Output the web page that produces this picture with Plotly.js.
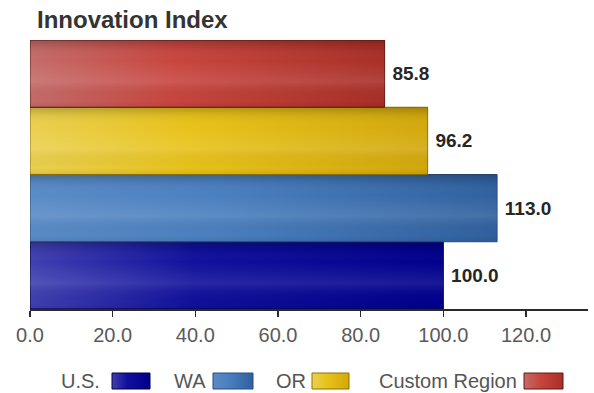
<!DOCTYPE html>
<html>
<head>
<meta charset="utf-8">
<script src="https://cdn.plot.ly/plotly-3.0.1.min.js"></script>
<style>
  html, body { margin: 0; padding: 0; background: #ffffff; }
  #chart { width: 594px; height: 393px; }
</style>
</head>
<body>
<div id="chart"></div>
<script>
// Innovation Index by region
const categories = ['U.S.', 'WA', 'OR', 'Custom Region'];
const values = [100.0, 113.0, 96.2, 85.8];
const tickValues = [0, 20, 40, 60, 80, 100, 120];
const tickLabels = ['0.0', '20.0', '40.0', '60.0', '80.0', '100.0', '120.0'];

// Base fill, edge and horizontal gradient stops for each region
const baseColors = ['#04048c', '#3f75b5', '#e4bc12', '#c23c37'];
const edgeColors = ['#000040', '#284c7c', '#8f7000', '#5e1a12'];
const gradientStops = [
  ['#4040b0', '#10109c', '#00008c'],
  ['#5a8bc6', '#4a7fbf', '#30609e'],
  ['#ead050', '#e8c21a', '#d2a80c'],
  ['#c46c6a', '#c8463f', '#a82f27']
];

// Plot-area geometry in pixels
const W = 594, H = 393;
const M = { l: 30, r: 6, t: 40, b: 84 };
const PW = W - M.l - M.r, PH = H - M.t - M.b;
const px2x = px => (px - M.l) / PW;
const py2y = py => (H - M.b - py) / PH;
const FONT = 'Liberation Sans, Arial, sans-serif';

const trace = {
  type: 'bar',
  orientation: 'h',
  y: categories,
  x: values,
  marker: { color: baseColors, line: { color: edgeColors, width: 1 } },
  // a four-per-em space keeps the value labels clear of the bar ends
  text: values.map(v => '\u2005' + v.toFixed(1)),
  texttemplate: '%{text}',
  textposition: 'outside',
  cliponaxis: false,
  constraintext: 'none',
  textfont: { family: FONT, size: 19, color: '#262626', weight: 'bold' },
  hoverinfo: 'skip',
  showlegend: false
};

// Legend: label followed by its colour swatch
const legendItems = [
  { textRight: 102, sw: [112, 150] },
  { textRight: 208, sw: [213, 253] },
  { textRight: 308, sw: [312, 349] },
  { textRight: 519, sw: [524, 563] }
];
const annotations = [];
const shapes = [];
categories.forEach((name, i) => {
  const it = legendItems[i];
  annotations.push({
    xref: 'paper', yref: 'paper',
    x: px2x(it.textRight), y: py2y(381),
    xanchor: 'right', yanchor: 'middle',
    text: name, showarrow: false,
    font: { family: FONT, size: 20, color: '#555555' }
  });
  shapes.push({
    type: 'rect', xref: 'paper', yref: 'paper',
    x0: px2x(it.sw[0]), x1: px2x(it.sw[1]),
    y0: py2y(389), y1: py2y(373),
    fillcolor: baseColors[i],
    line: { color: edgeColors[i], width: 1 }
  });
});

const layout = {
  width: W, height: H,
  margin: M,
  paper_bgcolor: '#ffffff',
  plot_bgcolor: '#ffffff',
  bargap: 0,
  title: {
    text: 'Innovation Index',
    xref: 'container', yref: 'container',
    x: 37 / W, xanchor: 'left',
    y: 1 - 20 / H, yanchor: 'middle',
    font: { family: FONT, size: 24, color: '#333333', weight: 'bold' }
  },
  xaxis: {
    range: [0, 135],
    tickvals: tickValues,
    ticktext: tickLabels,
    showgrid: false,
    zeroline: false,
    showline: true,
    linecolor: '#2a2a2a',
    linewidth: 1.5,
    ticks: 'outside',
    ticklen: 6,
    tickwidth: 1.5,
    tickcolor: '#2a2a2a',
    ticklabelstandoff: 1,
    tickfont: { family: FONT, size: 20, color: '#5a5a5a' },
    fixedrange: true
  },
  yaxis: {
    categoryorder: 'array',
    categoryarray: categories,
    showticklabels: false,
    showgrid: false,
    zeroline: false,
    showline: false,
    ticks: '',
    fixedrange: true
  },
  annotations: annotations,
  shapes: shapes
};

Plotly.newPlot('chart', [trace], layout, { staticPlot: true, displayModeBar: false }).then(gd => {
  // Glossy shading: horizontal colour gradient plus a vertical light/dark sheen
  const svg = gd.querySelector('svg.main-svg');
  const NS = 'http://www.w3.org/2000/svg';
  let defs = svg.querySelector('defs');
  if (!defs) { defs = document.createElementNS(NS, 'defs'); svg.insertBefore(defs, svg.firstChild); }
  const mkGrad = (id, vertical, stops) => {
    const g = document.createElementNS(NS, 'linearGradient');
    g.setAttribute('id', id);
    g.setAttribute('x1', '0'); g.setAttribute('y1', '0');
    g.setAttribute('x2', vertical ? '0' : '1'); g.setAttribute('y2', vertical ? '1' : '0');
    stops.forEach(([off, col, op]) => {
      const s = document.createElementNS(NS, 'stop');
      s.setAttribute('offset', off);
      s.setAttribute('stop-color', col);
      s.setAttribute('stop-opacity', op === undefined ? 1 : op);
      g.appendChild(s);
    });
    defs.appendChild(g);
  };
  gradientStops.forEach((st, i) => mkGrad('barfill' + i, false, [[0, st[0]], [0.4, st[1]], [1, st[2]]]));
  mkGrad('barsheen', true, [[0, '#000000', 0.22], [0.12, '#000000', 0.06], [0.3, '#ffffff', 0.0], [0.62, '#ffffff', 0.10], [0.9, '#000000', 0.0], [1, '#000000', 0.08]]);

  const paths = gd.querySelectorAll('.barlayer .trace.bars .point path');
  paths.forEach((p, i) => {
    p.style.fill = 'url(#barfill' + i + ')';
    const sheen = p.cloneNode(false);
    sheen.style.fill = 'url(#barsheen)';
    sheen.style.stroke = 'none';
    p.parentNode.insertBefore(sheen, p.nextSibling);
  });
  // legend swatches share the same fills
  const rects = gd.querySelectorAll('.layer-above .shapelayer path');
  rects.forEach((r, i) => { if (i < gradientStops.length) r.style.fill = 'url(#barfill' + i + ')'; });
});
</script>
</body>
</html>
